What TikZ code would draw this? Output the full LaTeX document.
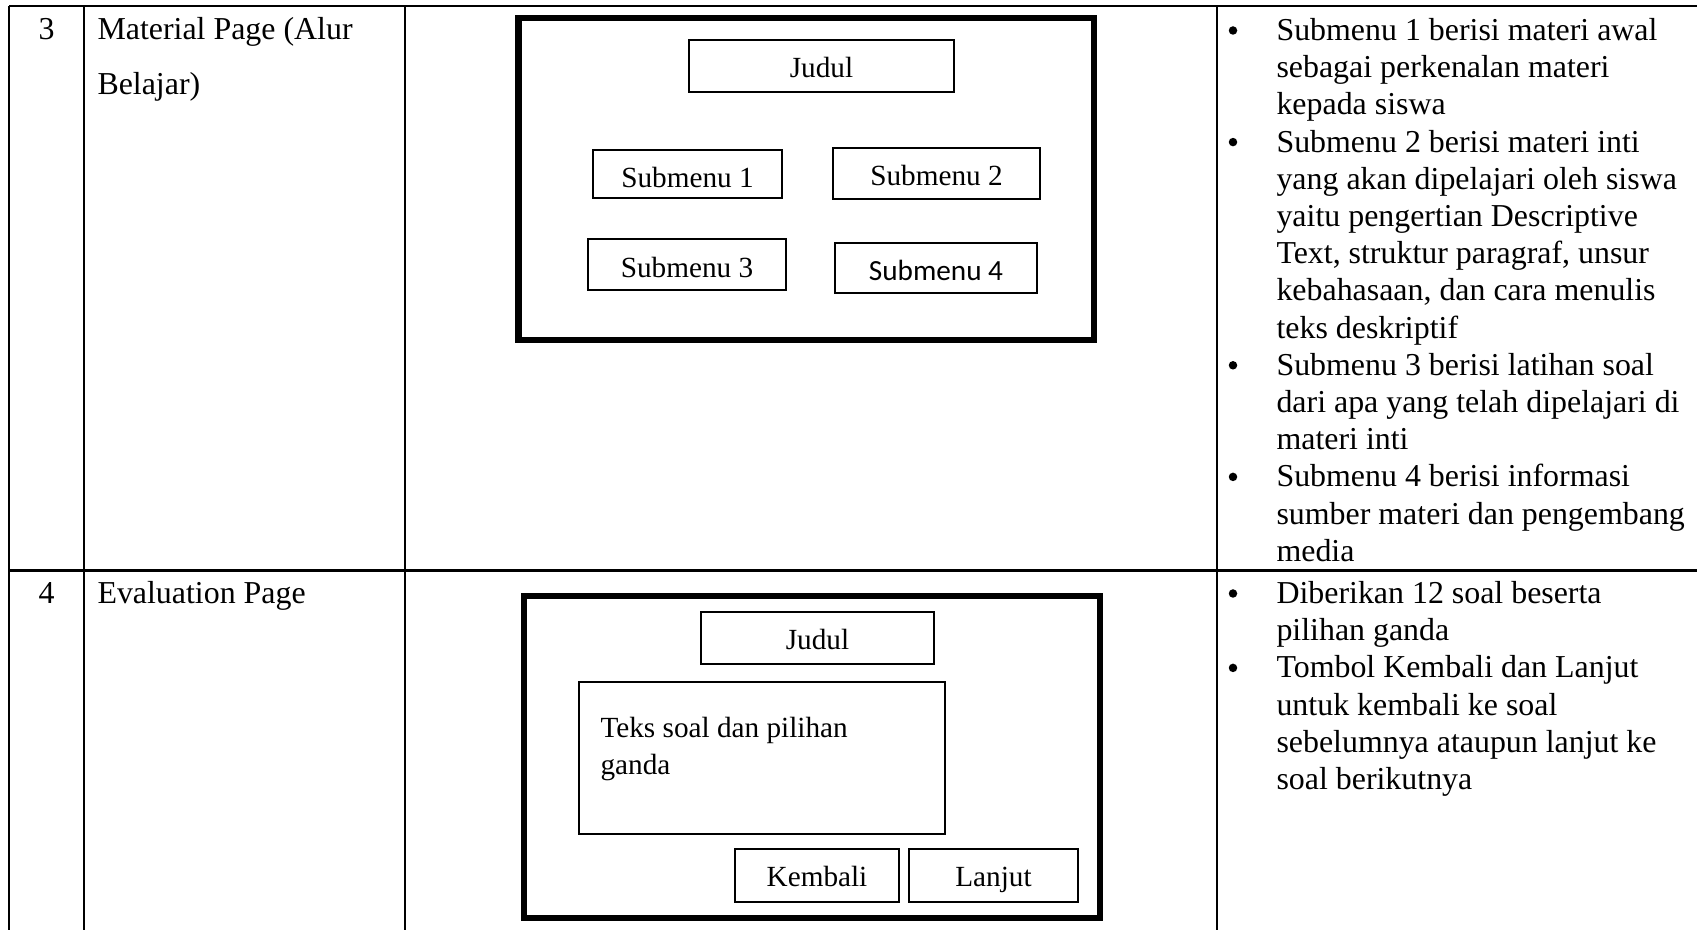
\documentclass[tikz,border=0pt]{standalone}
\usepackage{fontspec}
\setmainfont{Liberation Serif}
\newfontfamily\calibrifont{Carlito}
\usetikzlibrary{fit}
\begin{document}
\begin{tikzpicture}[x=0.3762pt,y=-0.3762pt,
  tline/.style={line width=0.8pt},
  frame/.style={draw, line width=2.5pt, inner sep=0pt},
  uibox/.style={draw, line width=0.75pt, inner sep=0pt},
  uitxt/.style={inner sep=0pt, anchor=base, font=\fontsize{11}{13.9}\selectfont},
  celltxt/.style={inner sep=0pt, anchor=base west, font=\fontsize{12}{13.9}\selectfont},
  numtxt/.style={inner sep=0pt, anchor=base, font=\fontsize{12}{13.9}\selectfont},
  bulnode/.style={circle, fill=black, draw=none, inner sep=0pt, minimum size=3.2pt},
  boxtxt/.style={inner sep=0pt, anchor=base west, font=\fontsize{11}{13.9}\selectfont},
]
\useasboundingbox (0,0) rectangle (1697,930);

% ---------- table grid ----------
\coordinate (tl) at (9,6);
\coordinate (tr) at (1697,6);
\coordinate (ml) at (9,570.5);
\coordinate (mr) at (1697,570.5);
\coordinate (bl) at (9,930);
\coordinate (c2t) at (84,6);
\coordinate (c2b) at (84,930);
\coordinate (c3t) at (405,6);
\coordinate (c3b) at (405,930);
\coordinate (c4t) at (1217,6);
\coordinate (c4b) at (1217,930);
\draw[tline] (tl) -- (tr);
\draw[tline] (ml) -- (mr);
\draw[tline] (tl) -- (bl);
\draw[tline] (c2t) -- (c2b);
\draw[tline] (c3t) -- (c3b);
\draw[tline] (c4t) -- (c4b);

% ---------- row 3 ----------
\node[numtxt] (n3) at (46.5,40) {3};
\node[celltxt] (name3a) at (97,40) {Material Page (Alur};
\node[celltxt] (name3b) at (97,95) {Belajar)};

\node[frame, fit={(518.5,18) (1094,340)}] (f1) {};
\node[uibox, fit={(689,40) (954,92)}] (j1) {};
\node[uibox, fit={(593,150) (782,198)}] (s1) {};
\node[uibox, fit={(833,148) (1040,199)}] (s2) {};
\node[uibox, fit={(588,239) (786,290)}] (s3) {};
\node[uibox, fit={(835,243) (1037,293)}] (s4) {};
\node[uitxt] (j1t) at (821.5,77.5) {Judul};
\node[uitxt] (s1t) at (687.5,188) {Submenu 1};
\node[uitxt] (s2t) at (936.5,185.5) {Submenu 2};
\node[uitxt] (s3t) at (687,277.5) {Submenu 3};
\node[uitxt, font=\calibrifont\fontsize{11}{13.9}\selectfont] (s4t) at (936,281) {Submenu 4};

\foreach \t [count=\i] in {
  {Submenu 1 berisi materi awal},
  {sebagai perkenalan materi},
  {kepada siswa},
  {Submenu 2 berisi materi inti},
  {yang akan dipelajari oleh siswa},
  {yaitu pengertian Descriptive},
  {Text, struktur paragraf, unsur},
  {kebahasaan, dan cara menulis},
  {teks deskriptif},
  {Submenu 3 berisi latihan soal},
  {dari apa yang telah dipelajari di},
  {materi inti},
  {Submenu 4 berisi informasi},
  {sumber materi dan pengembang},
  {media}}
  \node[celltxt] (ra\i) at (1276,{40.5+(\i-1)*37.2}) {\t};
\foreach \k in {1,4,10,13}
  \node[bulnode] (ba\k) at (1233,{30.5+(\k-1)*37.2}) {};

% ---------- row 4 ----------
\node[numtxt] (n4) at (46.5,604) {4};
\node[celltxt] (name4) at (97,604) {Evaluation Page};

\node[frame, fit={(524,596) (1100,918)}] (f2) {};
\node[uibox, fit={(701,612) (934,664)}] (j2) {};
\node[uibox, fit={(579,682) (945,834)}] (tb) {};
\node[uibox, fit={(735,849) (899,902)}] (kb) {};
\node[uibox, fit={(909,849) (1078,902)}] (lj) {};
\node[uitxt] (j2t) at (817.5,650) {Judul};
\node[boxtxt] (tb1) at (600,738) {Teks soal dan pilihan};
\node[boxtxt] (tb2) at (600,775) {ganda};
\node[uitxt] (kbt) at (817,887) {Kembali};
\node[uitxt] (ljt) at (993.5,887) {Lanjut};

\foreach \t [count=\i] in {
  {Diberikan 12 soal beserta},
  {pilihan ganda},
  {Tombol Kembali dan Lanjut},
  {untuk kembali ke soal},
  {sebelumnya ataupun lanjut ke},
  {soal berikutnya}}
  \node[celltxt] (rb\i) at (1276,{603.5+(\i-1)*37.2}) {\t};
\foreach \k in {1,3}
  \node[bulnode] (bb\k) at (1233,{593.5+(\k-1)*37.2}) {};
\end{tikzpicture}
\end{document}
